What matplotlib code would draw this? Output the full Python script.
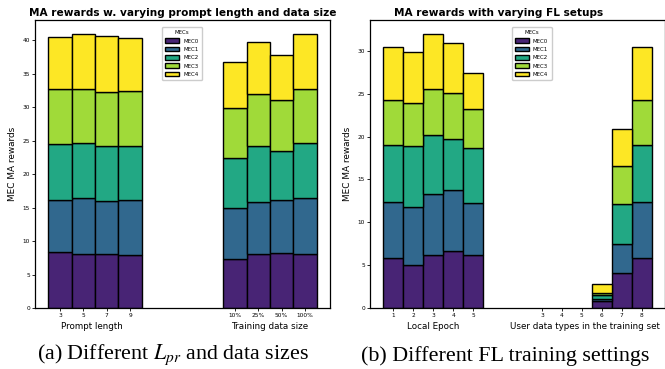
import numpy as np
import matplotlib
matplotlib.use("Agg")
import matplotlib.pyplot as plt

plt.rcParams["mathtext.fontset"] = "stix"

# panel (a): prompt length + training data size
left_labels = ["3", "5", "7", "9", "10%", "25%", "50%", "100%"]
left_mec0 = [8.4, 8.1, 8.0, 7.9, 7.3, 8.1, 8.15, 8.1]
left_mec1 = [7.7, 8.3, 7.95, 8.25, 7.6, 7.8, 7.95, 8.3]
left_mec2 = [8.4, 8.3, 8.3, 8.05, 7.45, 8.25, 7.3, 8.3]
left_mec3 = [8.2, 8.05, 8.1, 8.2, 7.55, 7.9, 7.75, 8.05]
left_mec4 = [7.85, 8.25, 8.35, 7.95, 6.85, 7.75, 6.6, 8.25]

# panel (b): local epoch + user data types
right_labels = ["1", "2", "3", "4", "5", "3", "4", "5", "6", "7", "8"]
right_mec0 = [5.8, 5.0, 6.2, 6.7, 6.2, 0, 0, 0, 0.85, 4.05, 5.8]
right_mec1 = [6.55, 6.8, 7.1, 7.1, 6.0, 0, 0, 0, 0.25, 3.4, 6.55]
right_mec2 = [6.65, 7.15, 6.85, 5.9, 6.5, 0, 0, 0, 0.4, 4.65, 6.65]
right_mec3 = [5.3, 4.95, 5.45, 5.4, 4.5, 0, 0, 0, 0.3, 4.45, 5.3]
right_mec4 = [6.2, 5.95, 6.4, 5.8, 4.25, 0, 0, 0, 0.95, 4.35, 6.2]

mec_names = ["MEC0", "MEC1", "MEC2", "MEC3", "MEC4"]
colors = ["#482475", "#31688e", "#22a884", "#a0da39", "#fde725"]

left_x = np.array([0, 1, 2, 3, 7.5, 8.5, 9.5, 10.5])
right_x = np.array([0, 1, 2, 3, 4, 7.45, 8.45, 9.45, 10.45, 11.45, 12.45])


def stacked(ax, x, series, labels):
    bottom = np.zeros(len(x))
    for vals, name, c in zip(series, mec_names, colors):
        vals = np.array(vals)
        # no outline on the empty (zero) bars
        lw = [1.0 if v > 0 else 0 for v in vals]
        ax.bar(x, vals, width=1.0, bottom=bottom, color=c, edgecolor="black",
               linewidth=lw, label=name)
        bottom += vals
    ax.set_xticks(x)
    ax.set_xticklabels(labels)
    ax.tick_params(labelsize=4.2, length=2, width=0.6, pad=1.5)
    ax.set_ylabel("MEC MA rewards", fontsize=6.4, labelpad=4)
    for s in ax.spines.values():
        s.set_linewidth(0.9)


fig = plt.figure(figsize=(6.65, 3.69), dpi=100)
ax1 = fig.add_axes([35 / 665, 61 / 369, 295 / 665, 288 / 369])
ax2 = fig.add_axes([370 / 665, 61 / 369, 295 / 665, 288 / 369])

stacked(ax1, left_x, [left_mec0, left_mec1, left_mec2, left_mec3, left_mec4], left_labels)
stacked(ax2, right_x, [right_mec0, right_mec1, right_mec2, right_mec3, right_mec4], right_labels)
ax1.set_yticks(np.arange(0, 45, 5))
ax2.set_yticks(np.arange(0, 35, 5))

ax1.set_title("MA rewards w. varying prompt length and data size", fontsize=7.55,
              fontweight="bold", pad=3)
ax2.set_title("MA rewards with varying FL setups", fontsize=7.55,
              fontweight="bold", pad=3, x=0.437)

# group labels under the ticks
ax1.text(1.36, -0.065, "Prompt length", transform=ax1.get_xaxis_transform(),
         ha="center", va="center", fontsize=6.3)
ax1.text(9.0, -0.065, "Training data size", transform=ax1.get_xaxis_transform(),
         ha="center", va="center", fontsize=6.3)
ax2.text(2.0, -0.065, "Local Epoch", transform=ax2.get_xaxis_transform(),
         ha="center", va="center", fontsize=6.3)
ax2.text(9.63, -0.065, "User data types in the training set",
         transform=ax2.get_xaxis_transform(), ha="center", va="center", fontsize=6.3)

leg_kw = dict(title="MECs", fontsize=4.0, title_fontsize=4.0, handlelength=2.4,
              handleheight=0.9, labelspacing=0.55, borderpad=0.6, framealpha=1)
ax1.legend(loc="upper center", bbox_to_anchor=((182 - 35) / 295, 0.985), **leg_kw)
ax2.legend(loc="upper center", bbox_to_anchor=((531.7 - 370) / 295, 0.985), **leg_kw)

fig.text(173 / 665, 1 - 355 / 369, "(a) Different $L_{pr}$ and data sizes",
         ha="center", va="center", fontsize=15.8, family="Liberation Serif")
fig.text(505 / 665, 1 - 356 / 369, "(b) Different FL training settings",
         ha="center", va="center", fontsize=15.8, family="Liberation Serif")

fig.savefig("out.png", dpi=100)
